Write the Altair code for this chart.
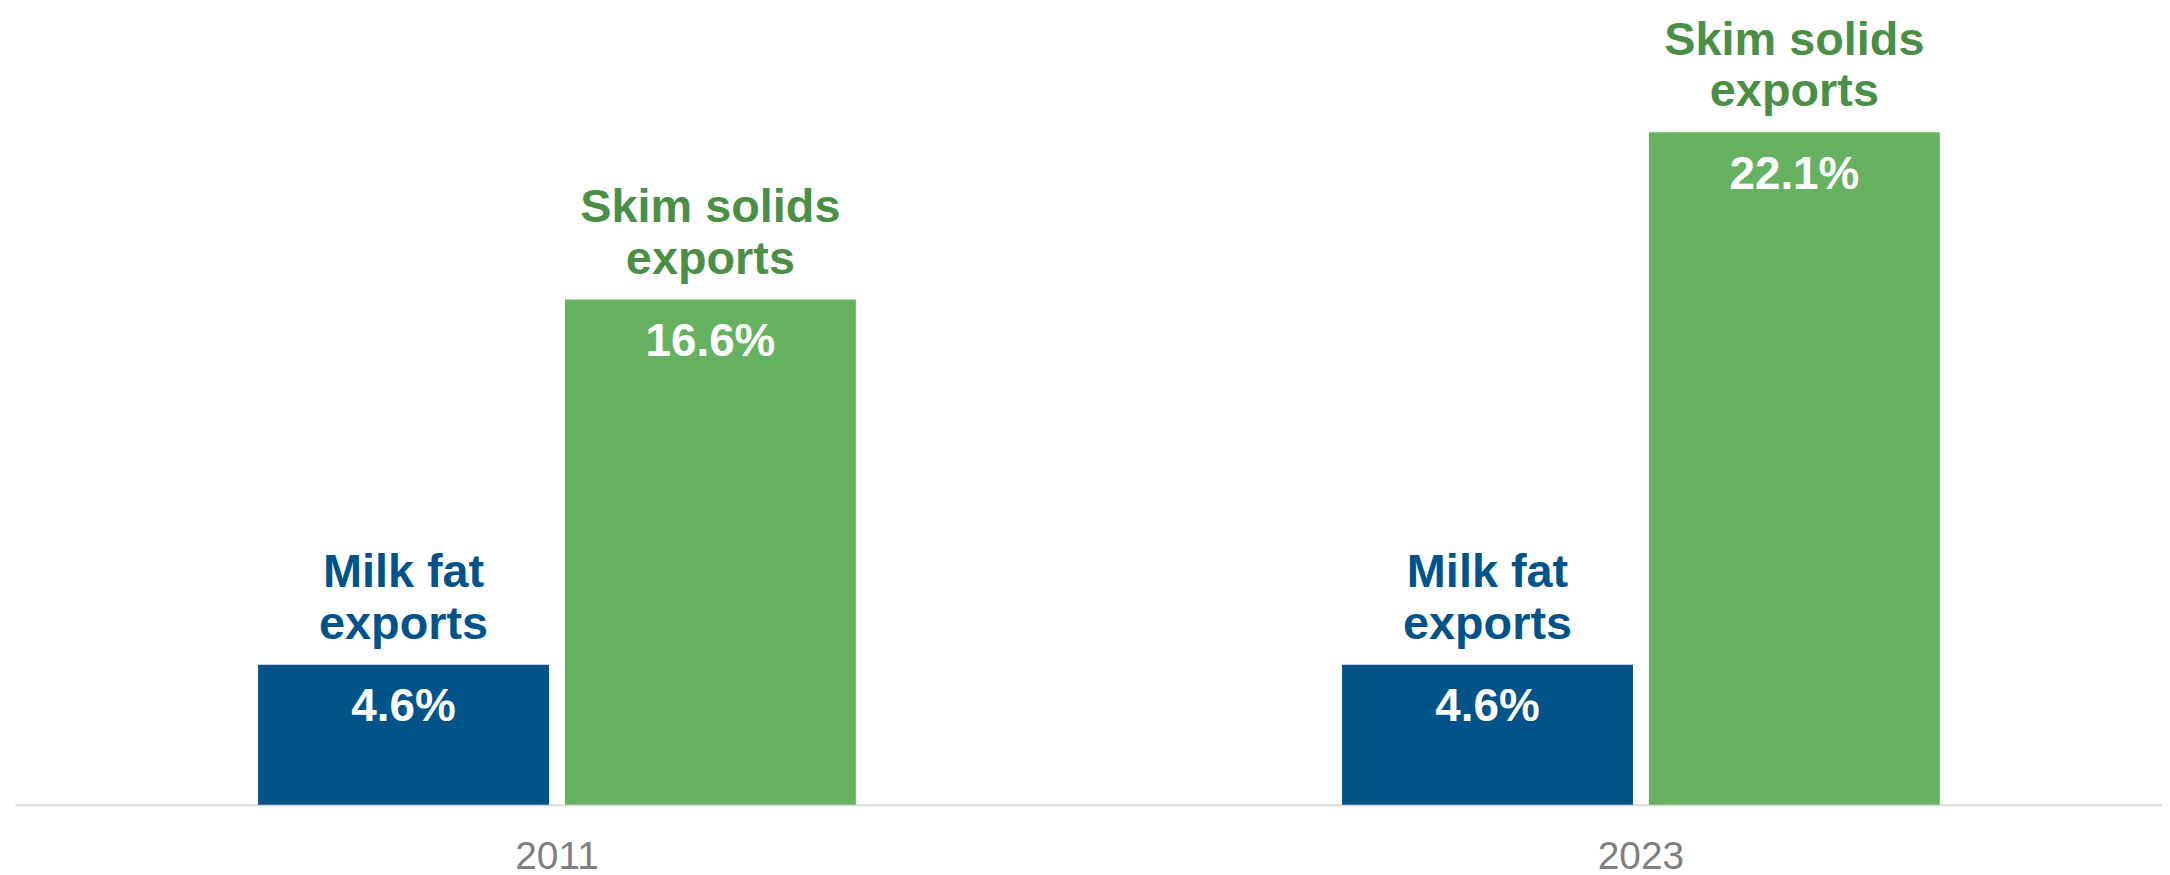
import altair as alt
import pandas as pd

years = ["2011", "2023"]
series = ["Milk fat exports", "Skim solids exports"]
series_labels = ["Milk fat\nexports", "Skim solids\nexports"]
milk_fat = [4.6, 4.6]
skim_solids = [16.6, 22.1]

BAR_COLORS = ["#02538a", "#66b261"]
TEXT_COLORS = ["#02538a", "#4a8f45"]

rows = []
for i, y in enumerate(years):
    rows.append({"year": y, "series": series[0], "label": series_labels[0], "value": milk_fat[i]})
    rows.append({"year": y, "series": series[1], "label": series_labels[1], "value": skim_solids[i]})
df = pd.DataFrame(rows)

FONT = "Liberation Sans"

x_enc = alt.X("year:N", title=None, sort=years,
              scale=alt.Scale(paddingInner=0.4485, paddingOuter=0.2146, align=0.5225),
              axis=alt.Axis(labelAngle=0, ticks=False, domainColor="#d9d9d9", domainWidth=2,
                            labelFont=FONT, labelFontSize=39, labelColor="#7f7f7f",
                            labelPadding=33, grid=False))
xo_enc = alt.XOffset("series:N", sort=series, scale=alt.Scale(paddingInner=0.052, paddingOuter=0))
y_enc = alt.Y("value:Q", title=None, scale=alt.Scale(domain=[0, 26], nice=False, zero=True),
              axis=None)

base = alt.Chart(df)

bars = base.mark_bar(size=292).encode(
    x=x_enc, xOffset=xo_enc, y=y_enc,
    color=alt.Color("series:N", scale=alt.Scale(domain=series, range=BAR_COLORS), legend=None),
)

values = base.transform_calculate(
    vlabel="format(datum.value, '.1f') + '%'"
).mark_text(font=FONT, fontSize=46, fontWeight="bold", color="white",
            baseline="top", align="center", dy=21).encode(
    x=x_enc, xOffset=xo_enc, y=y_enc, text="vlabel:N",
)

cats = base.mark_text(font=FONT, fontSize=47, fontWeight="bold", baseline="alphabetic",
                      align="center", dy=-78, lineBreak="\n", lineHeight=52).encode(
    x=x_enc, xOffset=xo_enc, y=y_enc, text="label:N",
    color=alt.Color("series:N", scale=alt.Scale(domain=series, range=TEXT_COLORS), legend=None),
)

chart = alt.layer(bars, values, cats).resolve_scale(color="independent").properties(
    width=2155, height=794,
    padding={"left": 7, "top": 4, "right": 0, "bottom": 69},
    autosize=alt.AutoSizeParams(type="none"),
).configure(background="white").configure_view(strokeWidth=0)

chart.save("out.html", embed_options={"renderer": "svg", "actions": False})
